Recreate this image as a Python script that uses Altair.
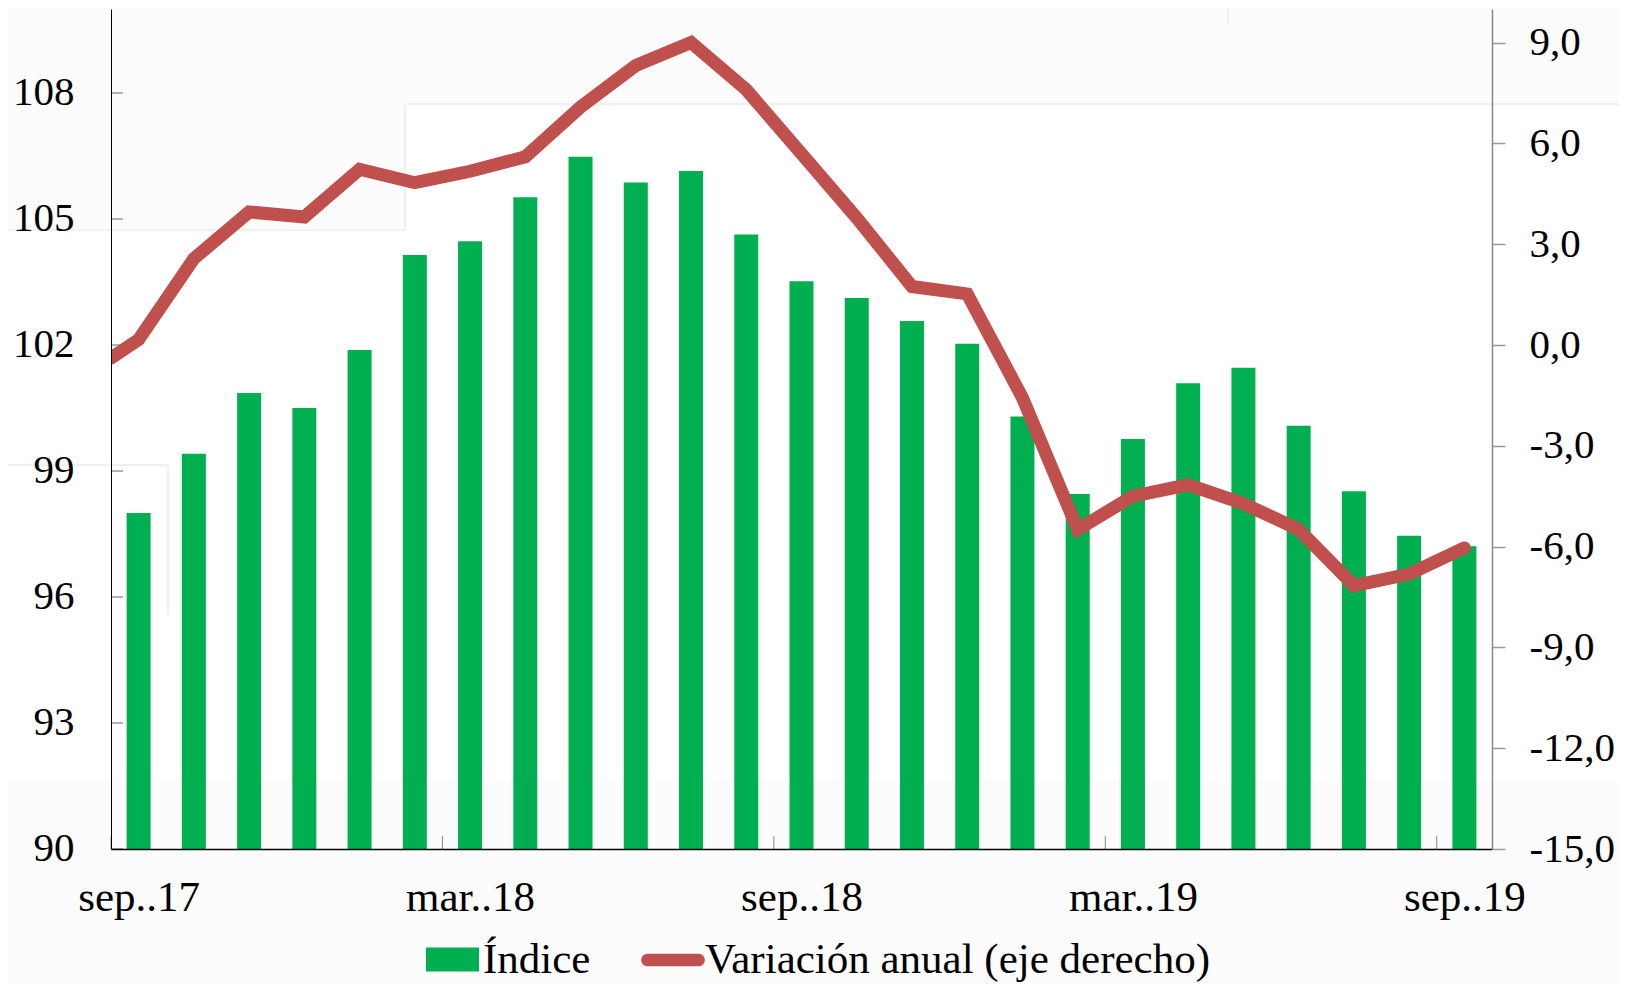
import altair as alt
import pandas as pd

indice = [98.0, 99.41, 100.86, 100.5, 101.88, 104.14, 104.47, 105.52, 106.48, 105.87, 106.14, 104.63,
          103.52, 103.12, 102.57, 102.03, 100.3, 98.45, 99.76, 101.09, 101.46, 100.08, 98.52, 97.46, 97.21]
variacion_pos = [-0.5] + list(range(25))
variacion = [-0.39, 0.16, 2.57, 3.96, 3.81, 5.23, 4.83, 5.17, 5.6, 7.08, 8.32, 9.0, 7.6,
             5.69, 3.78, 1.74, 1.52, -1.57, -5.49, -4.5, -4.16, -4.72, -5.49, -7.16, -6.82, -6.04]
x_label_pos = [0, 6, 12, 18, 24]
x_labels = ["sep..17", "mar..18", "sep..18", "mar..19", "sep..19"]
x_tick_pos = [-0.5, 5.5, 11.5, 17.5, 23.5]
left_ticks = [90, 93, 96, 99, 102, 105, 108]
right_ticks = [-15, -12, -9, -6, -3, 0, 3, 6, 9]
NAME_BAR = "Índice"
NAME_LINE = "Variación anual (eje derecho)"

GREEN = "#00B050"
RED = "#C0504D"
FONT = "Liberation Serif"
FS = 41
LFS = 43
W, H = 1381, 840

xscale = alt.Scale(domain=[-0.5, 24.5], nice=False, zero=False, padding=0)
lscale = alt.Scale(domain=[90, 110], nice=False, zero=False)
rscale = alt.Scale(domain=[-15, 10], nice=False, zero=False)

# faint page tones behind the plot (pixel positions relative to the plot origin)
bg = pd.DataFrame({"x1": [294, -103], "x2": [1508, 294], "y1": [95, 221], "y2": [771, 771]})
bg_layer = alt.Chart(bg).mark_rect(color="#FFFFFF").encode(
    x=alt.X("x1:Q", scale=None, axis=None), x2="x2:Q",
    y=alt.Y("y1:Q", scale=None, axis=None), y2="y2:Q")
ghost = pd.DataFrame({"x1": [294, -103, 294, -103, 57, 1117],
                      "x2": [1508, 294, 294, 57, 57, 1117],
                      "y1": [95, 221, 95, 456, 456, -9],
                      "y2": [95, 221, 221, 456, 606, 16]})
ghost_layer = alt.Chart(ghost).mark_rule(color="#F1F1F1", strokeWidth=2.5).encode(
    x=alt.X("x1:Q", scale=None, axis=None), x2="x2:Q",
    y=alt.Y("y1:Q", scale=None, axis=None), y2="y2:Q")

bars_df = pd.DataFrame({"i": list(range(25)), "v": indice, "base": 90, "serie": NAME_BAR})
bars = alt.Chart(bars_df).mark_bar(width=24, clip=False).encode(
    x=alt.X("i:Q", scale=xscale, title=None,
            axis=alt.Axis(values=x_label_pos, tickSize=0, grid=False, domainColor="#000000",
                          domainWidth=1.5, labelFont=FONT, labelFontSize=LFS, labelColor="#000000",
                          labelPadding=27, labelFlush=False, labelOverlap=False, zindex=1,
                          labelExpr="%s[datum.value/6]" % str(x_labels))),
    y=alt.Y("v:Q", scale=lscale, title=None,
            axis=alt.Axis(values=left_ticks, tickSize=0, grid=False, domainColor="#000000",
                          domainWidth=1, labelFont=FONT, labelFontSize=FS, labelColor="#000000",
                          labelPadding=37, labelBaseline="middle", labelOffset=-1, zindex=1)),
    y2="base:Q",
    color=alt.Color("serie:N", scale=alt.Scale(domain=[NAME_BAR], range=[GREEN]),
                    legend=alt.Legend(title=None, orient="none", legendX=315, legendY=924,
                                      symbolType="M-1,-0.45H1V0.45H-1Z", symbolSize=2809,
                                      symbolStrokeWidth=0, labelFont=FONT, labelFontSize=LFS,
                                      labelColor="#000000", labelLimit=800, labelOffset=4,
                                      padding=0)),
)

xt = pd.DataFrame({"i": x_tick_pos})
xticks = alt.Chart(xt).mark_rule(color="#888888", strokeWidth=1).encode(
    x=alt.X("i:Q", scale=xscale, axis=None),
    y=alt.value(H - 13), y2=alt.value(H))
yt = pd.DataFrame({"v": left_ticks})
yticks = alt.Chart(yt).mark_rule(color="#999999", strokeWidth=1.5).encode(
    y=alt.Y("v:Q", scale=lscale, axis=None),
    x=alt.value(0), x2=alt.value(12))

line_df = pd.DataFrame({"i": variacion_pos, "v": variacion, "serie": NAME_LINE})
line = alt.Chart(line_df).mark_line(strokeWidth=13, clip=True, strokeCap="round", strokeJoin="miter").encode(
    x=alt.X("i:Q", scale=xscale, axis=None),
    y=alt.Y("v:Q", scale=rscale, title=None,
            axis=alt.Axis(values=right_ticks, orient="right", tickSize=13, tickColor="#999999",
                          tickWidth=1.5, grid=False, domainColor="#888888", domainWidth=1.5,
                          labelFont=FONT, labelFontSize=FS, labelColor="#000000", labelPadding=24,
                          labelAlign="left", labelBaseline="middle", zindex=1,
                          labelExpr="replace(replace(format(datum.value, '.1f'), '.', ','), '\u2212', '-')")),
    color=alt.Color("serie:N", scale=alt.Scale(domain=[NAME_LINE], range=[RED]),
                    legend=alt.Legend(title=None, orient="none", legendX=530, legendY=919,
                                      symbolType="M-0.8,-0.2H0.8A0.2,0.2 0 0 1 0.8,0.2H-0.8A0.2,0.2 0 0 1 -0.8,-0.2Z",
                                      symbolSize=4045, symbolFillColor=RED, symbolStrokeWidth=0,
                                      labelFont=FONT, labelFontSize=LFS, labelColor="#000000",
                                      labelLimit=1000, labelOffset=0, padding=0)),
)

chart = alt.layer(bg_layer, ghost_layer, bars, xticks, yticks, line).resolve_scale(
    y="independent", color="independent", x="shared"
).resolve_axis(x="independent", y="independent").properties(
    width=W, height=H, background="#FCFCFC",
    autosize=alt.AutoSizeParams(type="none"),
    padding={"left": 103, "top": 1, "right": 127, "bottom": 134},
).configure_view(stroke=None)

chart.save("out.html", embed_options={"renderer": "svg", "actions": False})
